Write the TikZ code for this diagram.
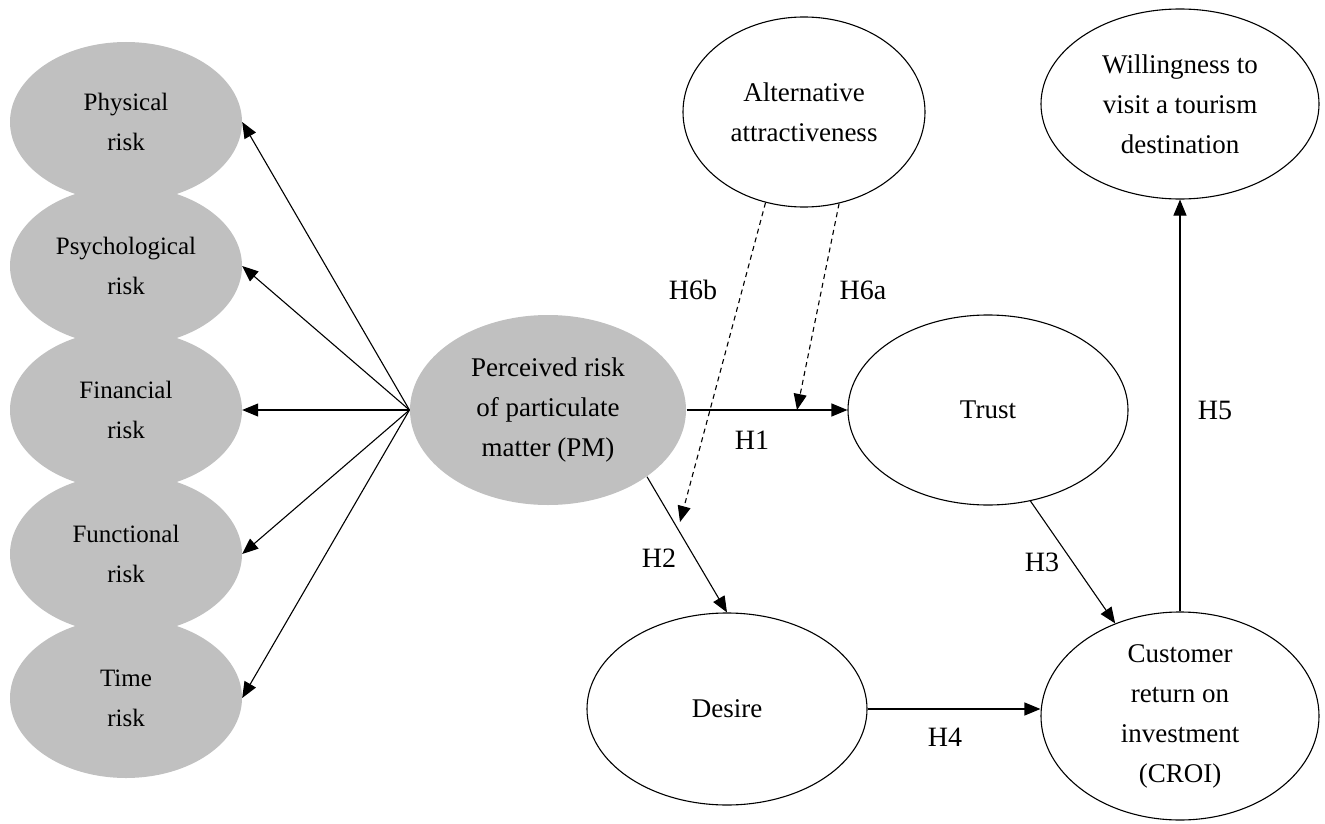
\documentclass[tikz,border=0pt]{standalone}
\usepackage{fontspec}
\setmainfont{Liberation Serif}
\usetikzlibrary{arrows.meta,shapes.geometric}
\definecolor{riskgray}{RGB}{192,192,192}
\begin{document}
\begin{tikzpicture}[x=1pt,y=-1pt,
  lat/.style={ellipse, draw=black, line width=1.1pt, inner sep=0pt, align=center, font=\fontsize{27}{40}\selectfont},
  grayell/.style={ellipse, fill=riskgray, inner sep=0pt, align=center, minimum width=232pt, minimum height=160pt, font=\fontsize{25}{40}\selectfont},
  arr/.style={-{Triangle[length=16pt,width=13pt]}, line width=1.1pt},
  darr/.style={arr, dash pattern=on 5pt off 4pt},
  hlab/.style={font=\fontsize{28}{30}\selectfont, inner sep=0pt}]
\useasboundingbox (0,0) rectangle (1325,824);
% left risk dimensions
\node[grayell] (phys) at (126,122) {Physical\\risk};
\node[grayell] (psych) at (126,266) {Psychological\\risk};
\node[grayell] (fin) at (126,410) {Financial\\risk};
\node[grayell] (func) at (126,554) {Functional\\risk};
\node[grayell] (time) at (126,698) {Time\\risk};
% main constructs
\node[lat, fill=riskgray, draw=none, minimum width=276pt, minimum height=190pt] (pm) at (548,410) {Perceived risk\\of particulate\\matter (PM)};
\node[lat, minimum width=242pt, minimum height=190pt] (alt) at (804,112) {Alternative\\attractiveness};
\node[lat, minimum width=278pt, minimum height=190pt] (will) at (1180,104) {Willingness to\\visit a tourism\\destination};
\node[lat, minimum width=280pt, minimum height=190pt] (trust) at (988,410) {Trust};
\node[lat, minimum width=280pt, minimum height=192pt] (desire) at (727,709) {Desire};
\node[lat, minimum width=278pt, minimum height=208pt] (croi) at (1180,716) {Customer\\return on\\investment\\(CROI)};
% arrows to risk dimensions
\draw[arr] (pm.west) -- (phys.east);
\draw[arr] (pm.west) -- (psych.east);
\draw[arr] (pm.west) -- (fin.east);
\draw[arr] (pm.west) -- (func.east);
\draw[arr] (pm.west) -- (time.east);
% hypotheses
\coordinate (h6aend) at (797,410);
\coordinate (h6bend) at (680,522);
\draw[arr] (pm.east) -- (trust.west);
\draw[darr] (alt.-69) -- (h6aend);
\draw[darr] (alt.-113) -- (h6bend);
\draw[arr] (pm.-34) -- (desire.north);
\draw[arr] (trust.-65) -- (croi.125);
\draw[arr] (desire.east) -- (desire.east -| croi.west);
\draw[arr] (croi.north) -- (will.south);
% labels
\node[hlab] (lh1) at (752,440) {H1};
\node[hlab] (lh2) at (659,558) {H2};
\node[hlab] (lh3) at (1042,562) {H3};
\node[hlab] (lh4) at (945,737) {H4};
\node[hlab] (lh5) at (1215,410) {H5};
\node[hlab] (lh6a) at (863,290) {H6a};
\node[hlab] (lh6b) at (693,290) {H6b};
\end{tikzpicture}
\end{document}
